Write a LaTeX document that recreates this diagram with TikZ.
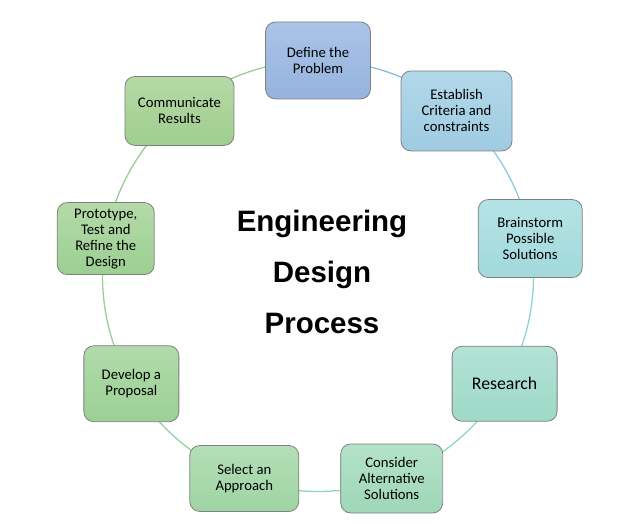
\documentclass[tikz,border=0pt]{standalone}
\usepackage{fontspec}
\setmainfont{Carlito}
\newfontfamily\titlefont{Liberation Sans}
\usetikzlibrary{backgrounds}
\definecolor{boxline}{HTML}{808080}
\definecolor{aA}{HTML}{8DBBDC}
\definecolor{aB}{HTML}{8FCBE0}
\definecolor{aC}{HTML}{8DD3D8}
\definecolor{aD}{HTML}{8FD6C3}
\definecolor{aE}{HTML}{90D6B0}
\definecolor{aF}{HTML}{92D3A0}
\definecolor{aG}{HTML}{96D092}
\definecolor{aH}{HTML}{98CE8E}
\definecolor{aI}{HTML}{98CE8E}
\definecolor{tA}{HTML}{AAC4E8}\definecolor{bA}{HTML}{95B3DD}
\definecolor{tB}{HTML}{B2D8E9}\definecolor{bB}{HTML}{9FCBE1}
\definecolor{tC}{HTML}{B5E3E5}\definecolor{bC}{HTML}{A2D9DB}
\definecolor{tD}{HTML}{B3E3D6}\definecolor{bD}{HTML}{9ED9C7}
\definecolor{tE}{HTML}{B3E2C9}\definecolor{bE}{HTML}{9ED7B7}
\definecolor{tF}{HTML}{B3DFB6}\definecolor{bF}{HTML}{9ED4A4}
\definecolor{tG}{HTML}{B1DBAA}\definecolor{bG}{HTML}{9BD094}
\definecolor{tH}{HTML}{B3DAA8}\definecolor{bH}{HTML}{9CCF92}
\definecolor{tI}{HTML}{B6D9A6}\definecolor{bI}{HTML}{9FCE8F}
\begin{document}
\begin{tikzpicture}[x=1pt,y=1pt,
  stepbox/.style={draw=boxline, line width=0.8pt, rounded corners=10pt,
    align=center, inner sep=0pt, text=black,
    font=\fontsize{14.7}{16}\selectfont},
  ring/.style={line width=1.3pt}]
\useasboundingbox (0,0) rectangle (640,524);
\coordinate (c) at (318,248);
\path (c) ++(90:215.5) node[stepbox, minimum width=105, minimum height=77, top color=tA, bottom color=bA] (n1) {Define the\\Problem};
\path (c) ++(50:215.5) node[stepbox, minimum width=111, minimum height=80, top color=tB, bottom color=bB] (n2) {Establish\\Criteria and\\constraints};
\path (c) ++(10:215.5) node[stepbox, minimum width=104, minimum height=78, top color=tC, bottom color=bC] (n3) {Brainstorm\\Possible\\Solutions};
\path (c) ++(-30:215.5) node[stepbox, minimum width=105, minimum height=75, top color=tD, bottom color=bD, font=\fontsize{17.8}{19}\selectfont] (n4) {Research};
\path (c) ++(-70:215.5) node[stepbox, minimum width=102, minimum height=69, top color=tE, bottom color=bE] (n5) {Consider\\Alternative\\Solutions};
\path (c) ++(-110:215.5) node[stepbox, minimum width=109, minimum height=66, top color=tF, bottom color=bF] (n6) {Select an\\Approach};
\path (c) ++(-150:215.5) node[stepbox, minimum width=95, minimum height=76, top color=tG, bottom color=bG] (n7) {Develop a\\Proposal};
\path (c) ++(-190:215.5) node[stepbox, minimum width=97, minimum height=72, top color=tH, bottom color=bH] (n8) {Prototype,\\Test and\\Refine the\\Design};
\path (c) ++(-230:215.5) node[stepbox, minimum width=109, minimum height=69, top color=tI, bottom color=bI] (n9) {Communicate\\Results};
\node[font=\titlefont\bfseries\fontsize{29.5}{51}\selectfont, align=center] (title) at (322,252) {Engineering\\Design\\Process};
\begin{scope}[on background layer]
\draw[ring, aA] (n1.center) arc[start angle=90, end angle=50, radius=215.5];
\draw[ring, aB] (n2.center) arc[start angle=50, end angle=10, radius=215.5];
\draw[ring, aC] (n3.center) arc[start angle=10, end angle=-30, radius=215.5];
\draw[ring, aD] (n4.center) arc[start angle=-30, end angle=-70, radius=215.5];
\draw[ring, aE] (n5.center) arc[start angle=-70, end angle=-110, radius=215.5];
\draw[ring, aF] (n6.center) arc[start angle=-110, end angle=-150, radius=215.5];
\draw[ring, aG] (n7.center) arc[start angle=-150, end angle=-190, radius=215.5];
\draw[ring, aH] (n8.center) arc[start angle=-190, end angle=-230, radius=215.5];
\draw[ring, aI] (n9.center) arc[start angle=-230, end angle=-270, radius=215.5];
\end{scope}
\end{tikzpicture}
\end{document}
